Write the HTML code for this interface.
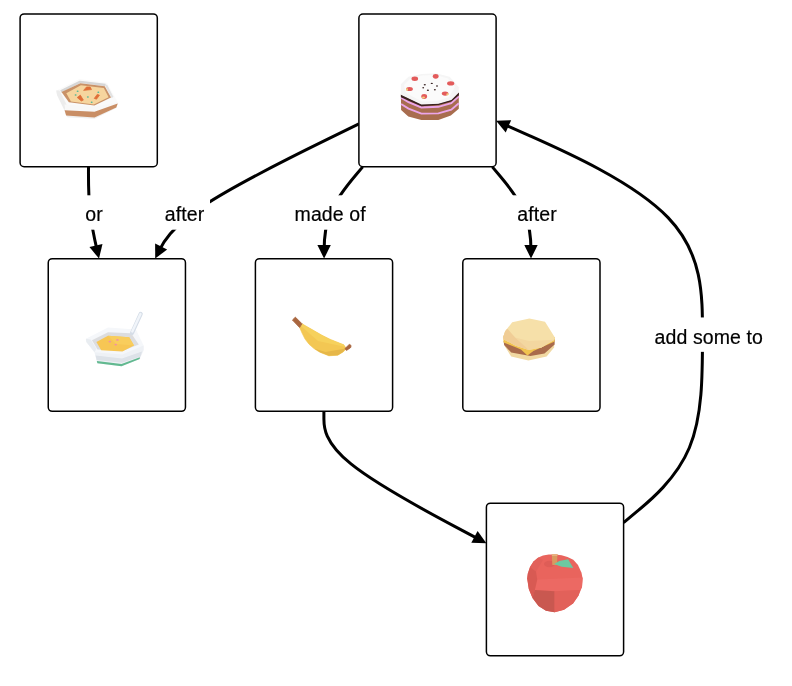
<!DOCTYPE html>
<html><head><meta charset="utf-8"><style>
html,body{margin:0;padding:0;background:#fff;}
body{width:792px;height:686px;position:relative;overflow:hidden;}
svg{position:absolute;left:0;top:0;}
.lb{position:absolute;font-family:"Liberation Sans",sans-serif;font-size:19.5px;letter-spacing:0.1px;line-height:30px;height:30px;white-space:nowrap;color:#000;transform:translateZ(0);-webkit-text-stroke:0.2px #000;}
</style></head><body>
<svg width="792" height="686" viewBox="0 0 792 686">
<path d="M 88.50,166.70 L 88.48,174.33 C 88.47,181.97 88.43,197.23 90.18,212.55 C 91.93,227.87 95.47,243.23 97.23,250.92 L 98.10,254.70" fill="none" stroke="#000" stroke-width="3"/>
<path d="M 99.00,258.60 L 89.45,246.94 L 102.50,243.94 Z" fill="#000"/>
<path d="M 358.90,123.95 L 328.72,138.71 C 298.53,153.47 238.17,182.98 204.22,205.43 C 170.27,227.87 162.73,243.23 158.97,250.92 L 156.96,255.01" fill="none" stroke="#000" stroke-width="3"/>
<path d="M 155.20,258.60 L 155.13,243.53 L 167.16,249.43 Z" fill="#000"/>
<path d="M 362.70,166.90 L 356.27,174.50 C 349.83,182.10 336.97,197.30 330.53,212.58 C 324.10,227.87 324.10,243.23 324.10,250.92 L 324.10,254.60" fill="none" stroke="#000" stroke-width="3"/>
<path d="M 324.10,258.60 L 317.40,245.10 L 330.80,245.10 Z" fill="#000"/>
<path d="M 492.30,166.90 L 498.75,174.50 C 505.20,182.10 518.10,197.30 524.55,212.58 C 531.00,227.87 531.00,243.23 531.00,250.92 L 531.00,254.60" fill="none" stroke="#000" stroke-width="3"/>
<path d="M 531.00,258.60 L 524.30,245.10 L 537.70,245.10 Z" fill="#000"/>
<path d="M 323.90,411.30 L 323.90,418.96 C 323.90,426.62 323.90,441.93 350.98,463.92 C 378.07,485.90 432.23,514.55 459.32,528.88 L 482.86,541.33" fill="none" stroke="#000" stroke-width="3"/>
<path d="M 486.40,543.20 L 471.33,542.81 L 477.60,530.97 Z" fill="#000"/>
<path d="M 623.60,522.60 L 636.75,511.71 C 649.90,500.82 676.20,479.03 689.35,447.77 C 702.50,416.50 702.50,375.75 702.50,334.96 C 702.50,294.17 702.50,253.33 668.10,217.64 C 633.70,181.95 564.90,151.41 530.50,136.13 L 499.76,122.48" fill="none" stroke="#000" stroke-width="3"/>
<path d="M 496.10,120.86 L 511.16,120.21 L 505.72,132.46 Z" fill="#000"/>
<rect x="79.83" y="195.30" width="29.34" height="34.40" fill="#fff"/>
<rect x="158.99" y="195.30" width="51.03" height="34.40" fill="#fff"/>
<rect x="289.16" y="195.30" width="82.47" height="34.40" fill="#fff"/>
<rect x="511.49" y="195.30" width="51.03" height="34.40" fill="#fff"/>
<rect x="648.84" y="317.45" width="119.33" height="34.40" fill="#fff"/>
<rect x="20.10" y="13.95" width="137.2" height="152.7" rx="4" ry="4" fill="#fff" stroke="#000" stroke-width="1.5"/>
<rect x="358.90" y="14.05" width="137.2" height="152.7" rx="4" ry="4" fill="#fff" stroke="#000" stroke-width="1.5"/>
<rect x="48.25" y="258.65" width="137.2" height="152.7" rx="4" ry="4" fill="#fff" stroke="#000" stroke-width="1.5"/>
<rect x="255.40" y="258.65" width="137.2" height="152.7" rx="4" ry="4" fill="#fff" stroke="#000" stroke-width="1.5"/>
<rect x="462.80" y="258.65" width="137.2" height="152.7" rx="4" ry="4" fill="#fff" stroke="#000" stroke-width="1.5"/>
<rect x="486.40" y="503.15" width="137.2" height="152.7" rx="4" ry="4" fill="#fff" stroke="#000" stroke-width="1.5"/>
<defs><filter id="bl" x="-20%" y="-20%" width="140%" height="140%"><feGaussianBlur stdDeviation="0.6"/></filter></defs>
<g id="pie" stroke-linejoin="round">
<polygon points="56.2,90.4 79.4,79 106.8,82.8 118.2,103.1 116.3,107.9 94.5,118.8 67.5,117.2 64.2,110.2 57,95" fill="#fafafa"/>
<polygon points="56.2,90.4 59.5,90.6 66.5,104.5 64.5,110.2 57,95" fill="#ececec" filter="url(#bl)"/>
<polyline points="60.8,91.3 80,81.9 105.6,85" fill="none" stroke="#d6d6d6" stroke-width="2.4" filter="url(#bl)"/>
<polyline points="106,85 112.5,97.5" fill="none" stroke="#e2e2e2" stroke-width="2.2" filter="url(#bl)"/>
<polygon points="61.5,91.9 80.4,83.2 104.8,86.3 111,97.5 94.4,105.5 68.9,102.2" fill="#c99268"/>
<polygon points="66.3,93.2 80.9,85.2 103.8,88 108.6,97.3 93.8,104.6 71,101.6" fill="#f6d59e"/>
<polygon points="64.2,110.2 94.5,111.8 117.7,103.6 116.3,107.9 94.5,118.8 67.5,117.2" fill="#efefef"/>
<polygon points="64.5,104.5 94.5,106.6 117.8,102.5 117.9,104 116.3,107.9 94.5,113 65.5,111" fill="#f8f8f8"/>
<polygon points="64.6,110.2 94.5,111.8 117.7,103.6 116.3,107.4 94.5,117.6 66.1,115.5" fill="#c98e65"/>
<g fill="#df6f38" stroke="#df6f38" stroke-width="0.7" stroke-linejoin="round">
<polygon points="83.6,90.4 86.5,86.9 90.2,87 91.5,89.6"/>
<polygon points="77.2,97.5 80.3,95.1 83.4,100.1 81.3,101"/>
<polygon points="94.2,98.4 97.3,94.3 99.5,95.2 96.5,99.2"/>
</g>
<g fill="#4db898">
<ellipse cx="77.6" cy="91.3" rx="1" ry="0.8"/><ellipse cx="75.6" cy="95" rx="1" ry="0.8"/><ellipse cx="87.9" cy="97" rx="1" ry="0.8"/><ellipse cx="98.3" cy="92.3" rx="1" ry="0.8"/><ellipse cx="91.7" cy="102.2" rx="1" ry="0.8"/>
</g>
</g>
<g id="cake">
<polygon points="400.9,94.7 421.4,104.6 438.4,103.7 451.3,100.1 458.8,92.6 458.8,108.8 450.8,115.6 438.4,120 421.4,120 408.3,116.6 401.1,110" fill="#a86d4f"/>
<polyline points="401.1,97.6 408.5,102.2 421.4,107.5 438.4,106.8 451.3,103.2 458.8,96.4" fill="none" stroke="#eba5e9" stroke-width="1.9"/>
<polyline points="401.1,104 408.5,108.6 421.4,113.6 438.4,113.4 451.3,109.7 458.8,103.2" fill="none" stroke="#eba5e9" stroke-width="1.9"/>
<polygon points="400.9,94.2 421.4,104.1 438.4,103.2 451.3,99.6 458.9,92 458.9,95.2 451.3,101.6 438.4,105.1 421.4,106.2 400.9,97.3" fill="#3b2121"/>
<polygon points="400.9,84.2 408.5,76.8 421.6,73.9 436,73.2 449.6,76.8 458.8,87.3 458.8,92.6 451.3,100.1 438.4,103.7 421.4,104.6 400.9,94.7" fill="#f5f5f5"/>
<polygon points="410,79 421.6,75.5 436,75 448,78.5 455,87 449,97 437,101 422,101.5 406,93 404,85" fill="#fbfbfb"/>
<g fill="#e35b5b">
<ellipse cx="414.8" cy="78.7" rx="3.3" ry="2.2"/>
<ellipse cx="435.7" cy="76.3" rx="2.9" ry="2.4"/>
<ellipse cx="450.7" cy="83.4" rx="3.6" ry="2.1"/>
<ellipse cx="409.5" cy="88.9" rx="3.4" ry="2"/>
<ellipse cx="445.1" cy="93.6" rx="3.3" ry="2.1"/>
<ellipse cx="424.2" cy="96.5" rx="2.9" ry="2.4"/>
</g>
<g fill="#f2cf7a">
<ellipse cx="407" cy="89.5" rx="1" ry="1.2"/>
<ellipse cx="423.5" cy="97.6" rx="1.5" ry="1"/>
<ellipse cx="447.5" cy="94.3" rx="1.2" ry="1.1"/>
</g>
<g fill="#3a2626">
<ellipse cx="424.8" cy="84.7" rx="1.1" ry="0.7"/><ellipse cx="423.2" cy="87.8" rx="0.9" ry="0.8"/><ellipse cx="427.9" cy="90.2" rx="1.1" ry="0.7"/>
<ellipse cx="431.8" cy="83.4" rx="1.1" ry="0.7"/><ellipse cx="437" cy="86" rx="1" ry="0.8"/><ellipse cx="434.9" cy="89.7" rx="1" ry="0.7"/>
</g>
</g><g id="bowl" stroke-linejoin="round">
<polygon points="85.9,338.7 108,327.6 135.9,329.5 143.6,345.4 143.6,350 139.7,358.9 121.5,366.2 97.4,363.2 94.5,352.2 86.3,342" fill="#f5f7fa"/>
<polygon points="85.9,338.7 90.7,339.6 96.4,348.8 94.5,352.2 86.3,342" fill="#e9edf1"/>
<polygon points="94.5,352.2 122.4,354.4 143.6,345.6 143.6,350 139.7,358.9 121.5,366.2 97.4,363.2" fill="#eef1f5"/>
<polygon points="95.6,355.5 122,358.6 142,351.5 140.6,356.5 122,362.8 96.6,360" fill="#dde2e8" filter="url(#bl)"/>
<polygon points="96.8,361 121.5,364 139.9,357.2 139.7,358.9 121.5,366.3 97.4,363.3" fill="#62b990"/>
<polygon points="92,340.3 108,332.2 131.1,333.2 138.8,344.5 122.4,351 97.5,349.5" fill="#dcdddf"/>
<polygon points="96.4,342 108,335.8 129.2,337.2 134,345.4 122.4,351.5 101.2,350.2" fill="#f7c654"/>
<polygon points="108,335.8 129.2,337.2 134,345.4 116,344" fill="#f9cd5c"/>
<g fill="#f290a5"><ellipse cx="109.8" cy="341.6" rx="1.3" ry="0.9"/><ellipse cx="115.7" cy="344.6" rx="1.3" ry="0.9"/><ellipse cx="117.4" cy="339.9" rx="1.3" ry="0.9"/></g>
<line x1="132" y1="333" x2="140.7" y2="313.9" stroke="#d5dde7" stroke-width="4.2" stroke-linecap="round"/>
<line x1="132.3" y1="331.5" x2="140.5" y2="314" stroke="#f1f5fa" stroke-width="2.4" stroke-linecap="round"/>
</g>
<g id="banana" stroke-linejoin="round">
<polygon points="301.9,323.7 322,335.3 330.4,339.4 343.8,344.8 346.5,348.8 343,352 337.8,355.2 328.9,355.8 320,352.3 314,348.6 309,344.2 305,339 302,333 299.6,327.4" fill="#f3c753" stroke="#f3c753" stroke-width="0.6"/>
<polygon points="301.9,323.7 322,335.3 330.4,339.4 343.8,344.8 344.5,346.8 318,340.9 300.9,325.9" fill="#f6d15c"/>
<polygon points="314,348.4 325.4,352 345.8,348.5 343,352 337.8,355.2 328.9,355.8 320,352.3" fill="#e6b749"/>
<polygon points="292.5,320 295.4,317.2 301.9,323.7 299.6,327.4" fill="#a9663f" stroke="#a9663f" stroke-width="1"/>
<polygon points="345,348.6 349.3,344.4 351,345.4 350.8,347.4 346.5,350.4" fill="#a9663f" stroke="#a9663f" stroke-width="0.9"/>
</g><g id="burger" stroke-linejoin="round">
<polygon points="504.3,344 554.6,341 554.1,347.4 546.6,356.5 528.4,360.6 511.2,356.5 504.6,346" fill="#f1d9a3"/>
<polygon points="503.6,341 554.6,339 554.6,344.4 544.5,353.5 530.4,356 511.2,352.5 504.1,344.9" fill="#a96b4b"/>
<polygon points="503.2,336 503.6,342.5 515,347 521,349.5 527.4,355.5 533.4,351 554.6,341.5 554.6,337" fill="#f1c34f"/>
<polygon points="503.1,337.3 505.2,331.3 512.2,322.2 529.4,318.6 545,321.7 554.1,336.3 554.6,339.8 541.5,347.4 528.9,350 515.3,345.4 503.6,339.3" fill="#f6e0a9"/>
<polygon points="503.1,337.3 505.2,331.3 507.3,328.8 515,337.5 528.9,341 554.6,339.8 541.5,347.4 528.9,350 515.3,345.4 503.6,339.3" fill="#f3d7a0"/>
<polygon points="503.1,337.3 505.2,331.3 507.3,328.8 515,337.5 528.9,350 515.3,345.4 503.6,339.3" fill="#f0cd96"/>
</g><g id="apple" stroke-linejoin="round">
<polygon points="527.2,578.5 527.8,573.8 530,567 533.5,561.5 538.3,557.5 543,555.5 548.8,554.6 555,554.6 561.6,555.2 567.5,557 573.3,559.8 578,565 581.5,572.7 582.6,578.5 582,587 578.5,595.5 573,603.5 564,609.8 554.6,612.3 546,610.8 538.5,606 532.5,598 528.8,589" fill="#e9645d"/>
<polygon points="537.2,579.6 582.6,577.5 582,587 580.3,590.1 554.6,591.3 534.8,590.1" fill="#ec6963"/>
<polygon points="530,567 533.5,561.5 538.3,557.5 543,560 536,571.5" fill="#e2605a"/>
<polygon points="527.2,578.5 527.8,573.8 530,567 536,571.5 537.2,579.6 534.8,590.1 532.5,598 528.8,589" fill="#d85a53"/>
<polygon points="534.8,590.1 554.6,591.3 554.6,612.3 546,610.8 538.5,606 532.5,598" fill="#c95850"/>
<polygon points="554.6,591.3 580.3,590.1 578.5,595.5 573,603.5 564,609.8 554.6,612.3" fill="#e2615a"/>
<ellipse cx="549.5" cy="564" rx="5.5" ry="3.2" fill="#de5d57"/>
<polygon points="551.8,554 557.4,554 557,565 552.3,565" fill="#d99a60"/>
<polygon points="551.8,554 557.4,554 557.3,556 551.9,556" fill="#e8b080"/>
<polygon points="554.1,563.9 559.3,561 568.1,559.2 573.3,568 561.6,566.8" fill="#6cc8a0"/>
</g>

</svg>
<div class="lb" style="left:85.30px;top:199.30px">or</div>
<div class="lb" style="left:164.80px;top:199.30px">after</div>
<div class="lb" style="left:294.55px;top:199.30px">made of</div>
<div class="lb" style="left:517.30px;top:199.30px">after</div>
<div class="lb" style="left:654.60px;top:321.90px">add some to</div>
</body></html>
